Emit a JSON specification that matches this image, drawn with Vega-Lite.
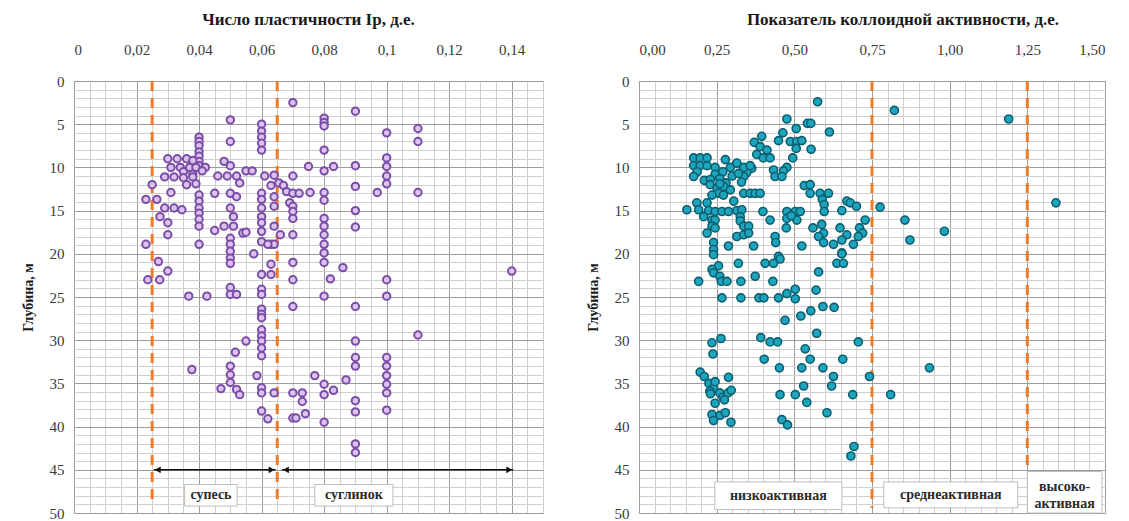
{
  "$schema": "https://vega.github.io/schema/vega-lite/v6.json",
  "padding": {"left": 20, "top": 10, "right": 5, "bottom": 0},
  "spacing": 96,
  "bounds": "flush",
  "config": {
    "view": {"stroke": "#9a9a9a", "strokeWidth": 1},
    "font": "Liberation Serif, Times New Roman, serif",
    "text": {"lineBreak": "\n"}
  },
  "datasets": {
    "ip": [
      {"ip":0.07,"d":2.5},{"ip":0.05,"d":4.5},{"ip":0.06,"d":5},{"ip":0.06,"d":5.8},{"ip":0.06,"d":6.5},{"ip":0.06,"d":7.2},{"ip":0.06,"d":8},{"ip":0.05,"d":7},{"ip":0.08,"d":4.3},{"ip":0.08,"d":4.8},{"ip":0.08,"d":5.2},{"ip":0.09,"d":3.5},{"ip":0.1,"d":6},{"ip":0.11,"d":5.5},{"ip":0.11,"d":7},{"ip":0.08,"d":8},
      {"ip":0.04,"d":6.5},{"ip":0.04,"d":7},{"ip":0.04,"d":7.5},{"ip":0.04,"d":8.2},{"ip":0.04,"d":8.7},{"ip":0.04,"d":9.3},{"ip":0.04,"d":9.8},
      {"ip":0.03,"d":9},{"ip":0.033,"d":9},{"ip":0.036,"d":9},{"ip":0.038,"d":9.2},{"ip":0.031,"d":10},{"ip":0.034,"d":10},{"ip":0.037,"d":10},{"ip":0.039,"d":10},{"ip":0.042,"d":10},{"ip":0.035,"d":10.5},{"ip":0.038,"d":10.8},{"ip":0.041,"d":10.4},{"ip":0.029,"d":11.1},{"ip":0.032,"d":11.1},{"ip":0.035,"d":11.2},{"ip":0.038,"d":11.1},{"ip":0.036,"d":12},{"ip":0.039,"d":11.9},{"ip":0.031,"d":12.9},{"ip":0.025,"d":12},
      {"ip":0.023,"d":13.7},{"ip":0.0265,"d":13.7},{"ip":0.029,"d":14.7},{"ip":0.032,"d":14.7},{"ip":0.0345,"d":14.9},{"ip":0.0275,"d":15.7},{"ip":0.03,"d":16.4},{"ip":0.03,"d":17.8},
      {"ip":0.04,"d":13.2},{"ip":0.04,"d":13.9},{"ip":0.04,"d":14.7},{"ip":0.04,"d":15.3},{"ip":0.04,"d":16},{"ip":0.04,"d":16.8},
      {"ip":0.048,"d":9.3},{"ip":0.05,"d":9.8},{"ip":0.046,"d":11},{"ip":0.049,"d":11},{"ip":0.052,"d":11},{"ip":0.053,"d":11.8},{"ip":0.055,"d":10.4},{"ip":0.057,"d":10.4},{"ip":0.061,"d":11},{"ip":0.063,"d":12.1},{"ip":0.064,"d":10.9},{"ip":0.0655,"d":11.8},{"ip":0.07,"d":11},{"ip":0.075,"d":9.9},{"ip":0.083,"d":9.9},{"ip":0.08,"d":10.4},{"ip":0.09,"d":9.8},{"ip":0.1,"d":8.9},{"ip":0.1,"d":9.9},{"ip":0.1,"d":11},{"ip":0.1,"d":11.9},
      {"ip":0.067,"d":12.1},{"ip":0.068,"d":12.8},{"ip":0.07,"d":13},{"ip":0.072,"d":13},{"ip":0.0755,"d":12.9},{"ip":0.08,"d":12.9},{"ip":0.08,"d":13.8},{"ip":0.09,"d":12.2},{"ip":0.097,"d":12.9},{"ip":0.11,"d":12.9},
      {"ip":0.06,"d":13},{"ip":0.06,"d":13.7},{"ip":0.06,"d":14.7},{"ip":0.06,"d":15.7},{"ip":0.06,"d":16.4},{"ip":0.06,"d":17.4},
      {"ip":0.045,"d":13},{"ip":0.05,"d":13},{"ip":0.052,"d":13.4},{"ip":0.05,"d":14.7},{"ip":0.051,"d":15.7},{"ip":0.048,"d":16.8},{"ip":0.051,"d":16.8},{"ip":0.054,"d":17.6},
      {"ip":0.064,"d":13.4},{"ip":0.064,"d":14.5},{"ip":0.069,"d":14.1},{"ip":0.07,"d":14.5},{"ip":0.07,"d":15.1},{"ip":0.07,"d":15.9},{"ip":0.09,"d":15},{"ip":0.09,"d":16.9},
      {"ip":0.08,"d":15.9},{"ip":0.08,"d":16.8},{"ip":0.08,"d":17.8},{"ip":0.08,"d":18.9},{"ip":0.08,"d":19.9},{"ip":0.064,"d":16.8},{"ip":0.066,"d":17.8},{"ip":0.07,"d":17.8},{"ip":0.063,"d":18.9},{"ip":0.064,"d":18.9},
      {"ip":0.04,"d":18.9},{"ip":0.023,"d":18.9},{"ip":0.05,"d":18.2},{"ip":0.05,"d":18.9},{"ip":0.05,"d":19.7},{"ip":0.05,"d":20.5},{"ip":0.05,"d":21.1},{"ip":0.045,"d":17.3},{"ip":0.055,"d":17.5},{"ip":0.06,"d":18.6},{"ip":0.062,"d":18.9},{"ip":0.0575,"d":20},{"ip":0.063,"d":21.2},{"ip":0.063,"d":22.4},{"ip":0.06,"d":22.4},{"ip":0.06,"d":24.1},{"ip":0.06,"d":24.7},{"ip":0.07,"d":21},{"ip":0.07,"d":23},{"ip":0.07,"d":26.1},
      {"ip":0.027,"d":20.9},{"ip":0.03,"d":22},{"ip":0.0236,"d":23},{"ip":0.0274,"d":23},{"ip":0.0367,"d":24.9},{"ip":0.0425,"d":24.9},{"ip":0.05,"d":23.9},{"ip":0.05,"d":24.7},{"ip":0.052,"d":24.7},
      {"ip":0.06,"d":26.4},{"ip":0.06,"d":27},{"ip":0.06,"d":27.4},{"ip":0.06,"d":28.8},{"ip":0.06,"d":29.5},{"ip":0.06,"d":30.1},{"ip":0.06,"d":30.9},{"ip":0.06,"d":31.8},{"ip":0.055,"d":30.1},{"ip":0.0516,"d":31.4},{"ip":0.0377,"d":33.4},
      {"ip":0.05,"d":33},{"ip":0.05,"d":34},{"ip":0.05,"d":34.9},{"ip":0.052,"d":35.7},{"ip":0.053,"d":36.3},{"ip":0.047,"d":35.6},{"ip":0.0585,"d":34.1},{"ip":0.06,"d":35.5},{"ip":0.06,"d":36.1},{"ip":0.064,"d":36.1},{"ip":0.06,"d":38.2},{"ip":0.062,"d":39.1},
      {"ip":0.07,"d":36.1},{"ip":0.073,"d":36.1},{"ip":0.073,"d":37.1},{"ip":0.074,"d":38.5},{"ip":0.07,"d":39},{"ip":0.071,"d":39},{"ip":0.077,"d":34.1},{"ip":0.087,"d":34.6},{"ip":0.08,"d":35.1},{"ip":0.08,"d":36.3},{"ip":0.083,"d":35.8},{"ip":0.08,"d":39.5},
      {"ip":0.086,"d":21.6},{"ip":0.14,"d":22},{"ip":0.082,"d":22.9},{"ip":0.1,"d":23},{"ip":0.08,"d":24.9},{"ip":0.1,"d":24.9},{"ip":0.09,"d":26.1},{"ip":0.11,"d":29.4},{"ip":0.09,"d":30.1},{"ip":0.09,"d":32},{"ip":0.09,"d":33},{"ip":0.1,"d":32},{"ip":0.1,"d":33},{"ip":0.1,"d":34.1},{"ip":0.1,"d":35.1},{"ip":0.1,"d":36.1},{"ip":0.09,"d":37},{"ip":0.09,"d":38.3},{"ip":0.1,"d":38.1},{"ip":0.09,"d":42},{"ip":0.09,"d":43},{"ip":0.08,"d":21}
    ],
    "ka": [
      {"ka":0.575,"d":2.4},{"ka":0.822,"d":3.4},{"ka":1.19,"d":4.4},{"ka":0.476,"d":4.4},{"ka":0.542,"d":4.9},{"ka":0.553,"d":4.9},{"ka":0.506,"d":5.5},{"ka":0.613,"d":5.9},{"ka":0.463,"d":6},{"ka":0.395,"d":6.4},{"ka":0.371,"d":7.1},{"ka":0.449,"d":6.9},{"ka":0.487,"d":7},{"ka":0.508,"d":7},{"ka":0.524,"d":6.9},{"ka":0.39,"d":7.6},{"ka":0.412,"d":8},{"ka":0.379,"d":8.5},{"ka":0.4,"d":8.9},{"ka":0.422,"d":8.9},{"ka":0.554,"d":7.9},{"ka":0.506,"d":7.8},{"ka":0.495,"d":8.9},{"ka":0.476,"d":10},{"ka":0.465,"d":10.4},{"ka":0.433,"d":10.3},{"ka":0.438,"d":11.05},{"ka":0.46,"d":11.05},{"ka":0.363,"d":10.1},{"ka":0.347,"d":10.6},{"ka":0.337,"d":11.05},
      {"ka":0.176,"d":8.9},{"ka":0.197,"d":8.9},{"ka":0.219,"d":8.9},{"ka":0.176,"d":9.8},{"ka":0.197,"d":9.8},{"ka":0.219,"d":9.8},{"ka":0.187,"d":10.5},{"ka":0.176,"d":11.05},{"ka":0.245,"d":10},{"ka":0.278,"d":9.1},{"ka":0.294,"d":10},{"ka":0.315,"d":9.5},{"ka":0.337,"d":10},{"ka":0.358,"d":9.8},
      {"ka":0.245,"d":10.8},{"ka":0.27,"d":10.5},{"ka":0.3,"d":11},{"ka":0.32,"d":10.7},{"ka":0.33,"d":11.7},{"ka":0.21,"d":11.5},{"ka":0.23,"d":11.4},{"ka":0.26,"d":11.3},{"ka":0.28,"d":11.8},{"ka":0.229,"d":12},{"ka":0.251,"d":12.4},{"ka":0.272,"d":12.2},{"ka":0.294,"d":12.6},{"ka":0.256,"d":13},{"ka":0.235,"d":13.2},{"ka":0.272,"d":13.2},{"ka":0.26,"d":11.9},
      {"ka":0.337,"d":13},{"ka":0.358,"d":13},{"ka":0.374,"d":13},{"ka":0.39,"d":13},{"ka":0.305,"d":13.9},
      {"ka":0.154,"d":14.9},{"ka":0.186,"d":14.1},{"ka":0.219,"d":14.1},{"ka":0.192,"d":14.9},{"ka":0.224,"d":15},{"ka":0.245,"d":15.1},{"ka":0.267,"d":15.1},{"ka":0.288,"d":15.1},{"ka":0.315,"d":15},{"ka":0.331,"d":14.9},{"ka":0.208,"d":15.7},{"ka":0.235,"d":16.1},{"ka":0.245,"d":16.1},
      {"ka":0.235,"d":16.8},{"ka":0.245,"d":17},{"ka":0.219,"d":17.6},{"ka":0.24,"d":18.7},{"ka":0.24,"d":19.5},{"ka":0.24,"d":20.1},{"ka":0.288,"d":19.1},{"ka":0.369,"d":19.1},
      {"ka":0.326,"d":15.7},{"ka":0.326,"d":16.2},{"ka":0.337,"d":16.8},{"ka":0.353,"d":16.8},{"ka":0.315,"d":18},{"ka":0.337,"d":17.8},{"ka":0.353,"d":17.6},
      {"ka":0.399,"d":15.1},{"ka":0.422,"d":16.1},{"ka":0.438,"d":18},{"ka":0.44,"d":18.7},{"ka":0.476,"d":15.1},{"ka":0.503,"d":15.1},{"ka":0.519,"d":15.1},{"ka":0.476,"d":15.9},{"ka":0.508,"d":16.1},{"ka":0.49,"d":15.6},{"ka":0.474,"d":17},{"ka":0.524,"d":19.1},
      {"ka":0.532,"d":12.1},{"ka":0.551,"d":12},{"ka":0.551,"d":13},{"ka":0.583,"d":13},{"ka":0.61,"d":13},{"ka":0.59,"d":13.7},{"ka":0.596,"d":14.3},{"ka":0.596,"d":15.1},{"ka":0.669,"d":13.9},{"ka":0.68,"d":14.1},{"ka":0.7,"d":14.5},{"ka":0.653,"d":15},{"ka":0.776,"d":14.6},{"ka":0.728,"d":16.1},{"ka":0.856,"d":16.1},{"ka":0.983,"d":17.4},{"ka":0.872,"d":18.4},{"ka":1.342,"d":14.1},
      {"ka":0.71,"d":17},{"ka":0.72,"d":17.6},{"ka":0.706,"d":18},{"ka":0.69,"d":18.9},{"ka":0.647,"d":17},{"ka":0.669,"d":17.8},{"ka":0.653,"d":18.4},{"ka":0.626,"d":18.9},{"ka":0.653,"d":19.9},{"ka":0.56,"d":17},{"ka":0.588,"d":16.6},{"ka":0.594,"d":17.6},{"ka":0.578,"d":18},{"ka":0.594,"d":18.7},
      {"ka":0.449,"d":20.3},{"ka":0.653,"d":20},{"ka":0.637,"d":21.1},{"ka":0.658,"d":21.1},{"ka":0.454,"d":20.6},{"ka":0.433,"d":21.1},{"ka":0.406,"d":21.1},{"ka":0.578,"d":22.1},{"ka":0.374,"d":22.6},{"ka":0.431,"d":23.2},{"ka":0.57,"d":24.2},{"ka":0.503,"d":24.1},{"ka":0.476,"d":24.6},{"ka":0.503,"d":25.2},{"ka":0.449,"d":25.1},{"ka":0.386,"d":25.1},{"ka":0.402,"d":25.1},
      {"ka":0.592,"d":26.1},{"ka":0.628,"d":26.2},{"ka":0.553,"d":26.6},{"ka":0.521,"d":27.2},{"ka":0.47,"d":27.7},{"ka":0.572,"d":29.2},{"ka":0.392,"d":29.7},{"ka":0.422,"d":30.2},{"ka":0.446,"d":30.2},{"ka":0.706,"d":30.2},{"ka":0.535,"d":31},{"ka":0.403,"d":32.2},{"ka":0.551,"d":32.2},{"ka":0.656,"d":32.2},{"ka":0.452,"d":33.2},{"ka":0.524,"d":33.2},{"ka":0.592,"d":33.2},{"ka":0.935,"d":33.2},{"ka":0.626,"d":34.2},{"ka":0.62,"d":35.3},{"ka":0.742,"d":34.2},{"ka":0.53,"d":35.3},{"ka":0.454,"d":36.3},{"ka":0.503,"d":36.3},{"ka":0.688,"d":36.3},{"ka":0.81,"d":36.3},{"ka":0.54,"d":37.2},{"ka":0.605,"d":38.4},{"ka":0.46,"d":39.2},{"ka":0.478,"d":39.8},{"ka":0.692,"d":42.3},{"ka":0.682,"d":43.4},
      {"ka":0.256,"d":21.4},{"ka":0.235,"d":21.8},{"ka":0.24,"d":22.2},{"ka":0.26,"d":22.6},{"ka":0.265,"d":23.2},{"ka":0.283,"d":23.2},{"ka":0.192,"d":23.2},{"ka":0.32,"d":21.1},{"ka":0.328,"d":23.2},{"ka":0.267,"d":25.1},{"ka":0.328,"d":25.1},{"ka":0.235,"d":30.3},{"ka":0.264,"d":29.8},{"ka":0.238,"d":31.6},{"ka":0.197,"d":33.7},{"ka":0.21,"d":34.2},{"ka":0.225,"d":35},{"ka":0.24,"d":35.5},{"ka":0.228,"d":35.9},{"ka":0.245,"d":34.8},{"ka":0.23,"d":36.2},{"ka":0.288,"d":34.3},{"ka":0.26,"d":36.1},{"ka":0.27,"d":36.6},{"ka":0.287,"d":36.1},{"ka":0.297,"d":35.8},{"ka":0.275,"d":36.9},{"ka":0.245,"d":37.3},{"ka":0.235,"d":38.6},{"ka":0.261,"d":38.7},{"ka":0.278,"d":38.4},{"ka":0.24,"d":39.3},{"ka":0.296,"d":39.5}
    ],
    "lines1": [{"x":0.025,"y1":0,"y2":49},{"x":0.065,"y1":0,"y2":49}],
    "lines2": [{"x":0.75,"y1":0,"y2":49.4},{"x":1.25,"y1":0,"y2":45}],
    "arrows1": [{"x":0.0255,"x2":0.0645,"y":45},{"x":0.0665,"x2":0.1405,"y":45}],
    "heads1": [{"x":0.0268,"y":45,"s":"triangle-left"},{"x":0.0632,"y":45,"s":"triangle-right"},{"x":0.0678,"y":45,"s":"triangle-left"},{"x":0.1392,"y":45,"s":"triangle-right"}],
    "boxes1": [{"x":0.0354,"x2":0.0522,"y":46.7,"y2":49.2,"xc":0.0438,"yc":47.95,"t":"супесь"},{"x":0.077,"x2":0.102,"y":46.7,"y2":49.2,"xc":0.0895,"yc":47.95,"t":"суглинок"}],
    "boxes2": [{"x":0.244,"x2":0.653,"y":46.4,"y2":49.6,"xc":0.4485,"yc":48,"t":"низкоактивная"},{"x":0.788,"x2":1.219,"y":46.4,"y2":49.4,"xc":1.0035,"yc":47.9,"t":"среднеактивная"},{"x":1.25,"x2":1.49,"y":45.2,"y2":50,"xc":1.37,"yc":47.0,"t":"высоко-\nактивная"}]
  },
  "hconcat": [
    {
      "width": 469,
      "height": 432,
      "title": {"text": "Число пластичности Ip, д.е.", "font": "Liberation Serif, Times New Roman, serif", "fontSize": 17, "fontWeight": "bold", "color": "#1a1a1a", "offset": 13},
      "resolve": {"axis": {"x": "independent", "y": "independent"}},
      "layer": [
        {
          "data": {"name": "lines1"},
          "mark": {"type": "rule", "color": "#f07c2a", "strokeWidth": 3, "strokeDash": [10, 7]},
          "encoding": {
            "x": {"field": "x", "type": "quantitative", "scale": {"domain": [0, 0.15], "nice": false, "zero": false},
              "axis": {"orient": "top", "values": [0,0.005,0.01,0.015,0.02,0.025,0.03,0.035,0.04,0.045,0.05,0.055,0.06,0.065,0.07,0.075,0.08,0.085,0.09,0.095,0.1,0.105,0.11,0.115,0.12,0.125,0.13,0.135,0.14,0.145,0.15], "labels": false, "ticks": false, "domain": false, "grid": true, "gridColor": "#cfcfcf", "gridWidth": 1, "title": null}},
            "y": {"field": "y1", "type": "quantitative", "scale": {"domain": [0, 50], "reverse": true, "nice": false, "zero": false},
              "axis": {"orient": "left", "values": [0,1,2,3,4,5,6,7,8,9,10,11,12,13,14,15,16,17,18,19,20,21,22,23,24,25,26,27,28,29,30,31,32,33,34,35,36,37,38,39,40,41,42,43,44,45,46,47,48,49,50], "labels": false, "ticks": false, "domain": false, "grid": true, "gridColor": "#cfcfcf", "gridWidth": 1, "title": null}},
            "y2": {"field": "y2"}
          }
        },
        {
          "data": {"name": "ip"},
          "mark": {"type": "point", "filled": true, "fill": "#dcc3ef", "stroke": "#7a4ea6", "strokeWidth": 2, "size": 55, "opacity": 1},
          "encoding": {
            "x": {"field": "ip", "type": "quantitative", "scale": {"domain": [0, 0.15], "nice": false, "zero": false},
              "axis": {"orient": "top", "values": [0,0.02,0.04,0.06,0.08,0.1,0.12,0.14], "labelExpr": "replace(toString(datum.value), '.', ',')", "grid": true, "gridColor": "#9c9c9c", "ticks": false, "domain": false, "labelFont": "Liberation Serif, Times New Roman, serif", "labelFontSize": 15, "labelColor": "#3a3a3a", "labelPadding": 24, "title": null}},
            "y": {"field": "d", "type": "quantitative", "scale": {"domain": [0, 50], "reverse": true, "nice": false, "zero": false},
              "axis": {"orient": "left", "values": [0,5,10,15,20,25,30,35,40,45,50], "grid": true, "gridColor": "#9c9c9c", "ticks": false, "domain": false, "labelFont": "Liberation Serif, Times New Roman, serif", "labelFontSize": 15, "labelColor": "#3a3a3a", "labelPadding": 10, "title": "Глубина, м", "titleFont": "Liberation Serif, Times New Roman, serif", "titleFontSize": 14, "titleFontWeight": "bold", "titleColor": "#1a1a1a", "titlePadding": 14}}
          }
        },
        {
          "data": {"name": "arrows1"},
          "mark": {"type": "rule", "color": "#111111", "strokeWidth": 1.6},
          "encoding": {
            "x": {"field": "x", "type": "quantitative", "scale": {"domain": [0, 0.15], "nice": false, "zero": false}, "axis": null},
            "x2": {"field": "x2"},
            "y": {"field": "y", "type": "quantitative", "scale": {"domain": [0, 50], "reverse": true, "nice": false, "zero": false}, "axis": null}
          }
        },
        {
          "data": {"name": "heads1"},
          "mark": {"type": "point", "filled": true, "color": "#111111", "size": 45, "opacity": 1},
          "encoding": {
            "x": {"field": "x", "type": "quantitative", "scale": {"domain": [0, 0.15], "nice": false, "zero": false}, "axis": null},
            "y": {"field": "y", "type": "quantitative", "scale": {"domain": [0, 50], "reverse": true, "nice": false, "zero": false}, "axis": null},
            "shape": {"field": "s", "type": "nominal", "scale": null}
          }
        },
        {
          "data": {"name": "boxes1"},
          "mark": {"type": "rect", "fill": "#ffffff", "stroke": "#bdbdbd", "strokeWidth": 1},
          "encoding": {
            "x": {"field": "x", "type": "quantitative", "scale": {"domain": [0, 0.15], "nice": false, "zero": false}, "axis": null},
            "x2": {"field": "x2"},
            "y": {"field": "y", "type": "quantitative", "scale": {"domain": [0, 50], "reverse": true, "nice": false, "zero": false}, "axis": null},
            "y2": {"field": "y2"}
          }
        },
        {
          "data": {"name": "boxes1"},
          "mark": {"type": "text", "font": "Liberation Serif, Times New Roman, serif", "fontSize": 14, "fontWeight": "bold", "color": "#2a2a2a"},
          "encoding": {
            "x": {"field": "xc", "type": "quantitative", "scale": {"domain": [0, 0.15], "nice": false, "zero": false}, "axis": null},
            "y": {"field": "yc", "type": "quantitative", "scale": {"domain": [0, 50], "reverse": true, "nice": false, "zero": false}, "axis": null},
            "text": {"field": "t"}
          }
        }
      ]
    },
    {
      "width": 466,
      "height": 432,
      "title": {"text": "Показатель коллоидной активности, д.е.", "font": "Liberation Serif, Times New Roman, serif", "fontSize": 17, "fontWeight": "bold", "color": "#1a1a1a", "offset": 13, "dx": 31},
      "resolve": {"axis": {"x": "independent", "y": "independent"}},
      "layer": [
        {
          "data": {"name": "lines2"},
          "mark": {"type": "rule", "color": "#f07c2a", "strokeWidth": 3, "strokeDash": [10, 7]},
          "encoding": {
            "x": {"field": "x", "type": "quantitative", "scale": {"domain": [0, 1.5], "nice": false, "zero": false},
              "axis": {"orient": "top", "values": [0,0.05,0.1,0.15,0.2,0.25,0.3,0.35,0.4,0.45,0.5,0.55,0.6,0.65,0.7,0.75,0.8,0.85,0.9,0.95,1,1.05,1.1,1.15,1.2,1.25,1.3,1.35,1.4,1.45,1.5], "labels": false, "ticks": false, "domain": false, "grid": true, "gridColor": "#cfcfcf", "gridWidth": 1, "title": null}},
            "y": {"field": "y1", "type": "quantitative", "scale": {"domain": [0, 50], "reverse": true, "nice": false, "zero": false},
              "axis": {"orient": "left", "values": [0,1,2,3,4,5,6,7,8,9,10,11,12,13,14,15,16,17,18,19,20,21,22,23,24,25,26,27,28,29,30,31,32,33,34,35,36,37,38,39,40,41,42,43,44,45,46,47,48,49,50], "labels": false, "ticks": false, "domain": false, "grid": true, "gridColor": "#cfcfcf", "gridWidth": 1, "title": null}},
            "y2": {"field": "y2"}
          }
        },
        {
          "data": {"name": "ka"},
          "mark": {"type": "point", "filled": true, "fill": "#1ea5bd", "stroke": "#0c5e6f", "strokeWidth": 1.6, "size": 65, "opacity": 1},
          "encoding": {
            "x": {"field": "ka", "type": "quantitative", "scale": {"domain": [0, 1.5], "nice": false, "zero": false},
              "axis": {"orient": "top", "values": [0,0.25,0.5,0.75,1,1.25,1.5], "labelExpr": "replace(format(datum.value, '.2f'), '.', ',')", "grid": true, "gridColor": "#9c9c9c", "ticks": false, "domain": false, "labelFont": "Liberation Serif, Times New Roman, serif", "labelFontSize": 15, "labelColor": "#3a3a3a", "labelPadding": 24, "title": null}},
            "y": {"field": "d", "type": "quantitative", "scale": {"domain": [0, 50], "reverse": true, "nice": false, "zero": false},
              "axis": {"orient": "left", "values": [0,5,10,15,20,25,30,35,40,45,50], "grid": true, "gridColor": "#9c9c9c", "ticks": false, "domain": false, "labelFont": "Liberation Serif, Times New Roman, serif", "labelFontSize": 15, "labelColor": "#3a3a3a", "labelPadding": 10, "title": "Глубина, м", "titleFont": "Liberation Serif, Times New Roman, serif", "titleFontSize": 14, "titleFontWeight": "bold", "titleColor": "#1a1a1a", "titlePadding": 14}}
          }
        },
        {
          "data": {"name": "boxes2"},
          "mark": {"type": "rect", "fill": "#ffffff", "stroke": "#bdbdbd", "strokeWidth": 1},
          "encoding": {
            "x": {"field": "x", "type": "quantitative", "scale": {"domain": [0, 1.5], "nice": false, "zero": false}, "axis": null},
            "x2": {"field": "x2"},
            "y": {"field": "y", "type": "quantitative", "scale": {"domain": [0, 50], "reverse": true, "nice": false, "zero": false}, "axis": null},
            "y2": {"field": "y2"}
          }
        },
        {
          "data": {"name": "boxes2"},
          "mark": {"type": "text", "font": "Liberation Serif, Times New Roman, serif", "fontSize": 14, "fontWeight": "bold", "color": "#2a2a2a", "lineBreak": "\n", "lineHeight": 17},
          "encoding": {
            "x": {"field": "xc", "type": "quantitative", "scale": {"domain": [0, 1.5], "nice": false, "zero": false}, "axis": null},
            "y": {"field": "yc", "type": "quantitative", "scale": {"domain": [0, 50], "reverse": true, "nice": false, "zero": false}, "axis": null},
            "text": {"field": "t"}
          }
        }
      ]
    }
  ]
}
